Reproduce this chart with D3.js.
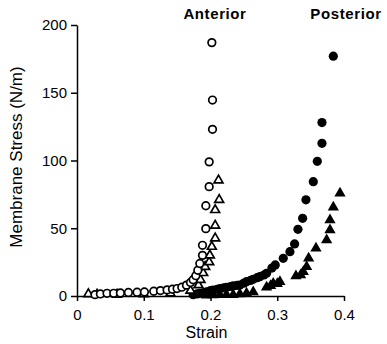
<!DOCTYPE html>
<html>
<head>
<meta charset="utf-8">
<style>
  body { margin: 0; background: #fff; }
  svg { font-family: "Liberation Sans", Arial, sans-serif; }
  .axis path, .axis line { stroke: #000; stroke-width: 1.5; }
  .axis text { font-size: 15px; fill: #000; }
</style>
<script src="https://cdn.jsdelivr.net/npm/d3@7"></script>
</head>
<body>
<svg id="chart" width="387" height="344"></svg>
<script>
// anterior, open circles
var antCircS = [0.027, 0.035, 0.045, 0.055, 0.065, 0.077, 0.09, 0.101, 0.115, 0.125, 0.135, 0.143, 0.15, 0.157, 0.164, 0.17, 0.174, 0.178, 0.181, 0.184, 0.188, 0.188, 0.193, 0.193, 0.198, 0.198, 0.203, 0.203, 0.202];
var antCircV = [1, 1.5, 2, 2, 2.2, 2.6, 2.8, 3, 3.5, 4, 4.5, 5, 5.5, 6.5, 8, 10, 12, 15, 19, 24, 30, 37.4, 49.7, 66.6, 80.7, 99, 123, 144.6, 187];
// anterior, open triangles
var antTriS = [0.017, 0.03, 0.06, 0.1, 0.14, 0.17, 0.182, 0.185, 0.189, 0.192, 0.198, 0.199, 0.202, 0.207, 0.207, 0.207, 0.213, 0.212];
var antTriV = [1.5, 1, 1, 1.5, 2, 4, 8, 12, 17, 21.6, 25, 30, 36.4, 42.6, 52, 63.5, 71, 85.4];
// posterior, filled circles
var postCircS = [0.174, 0.18, 0.184, 0.19, 0.194, 0.2, 0.204, 0.21, 0.214, 0.22, 0.224, 0.23, 0.234, 0.24, 0.244, 0.25, 0.254, 0.26, 0.264, 0.27, 0.274, 0.28, 0.284, 0.292, 0.297, 0.309, 0.319, 0.326, 0.331, 0.338, 0.343, 0.354, 0.36, 0.367, 0.367, 0.384];
var postCircV = [1, 1.5, 2, 2.5, 3, 4, 4.4, 5, 5.4, 6, 6.4, 7, 7.4, 7.8, 8.1, 9.5, 10.6, 11.5, 12.3, 13.5, 14.3, 15.5, 16.7, 20.6, 22.9, 27.8, 32.7, 38.4, 49.2, 57.3, 71, 84.4, 99.4, 112.7, 128, 177];
// posterior, filled triangles
var postTriS = [0.194, 0.204, 0.214, 0.224, 0.234, 0.244, 0.254, 0.264, 0.284, 0.29, 0.294, 0.3, 0.304, 0.328, 0.335, 0.339, 0.344, 0.347, 0.358, 0.374, 0.379, 0.379, 0.384, 0.394];
var postTriV = [0.5, 0.8, 1, 1, 1, 1.5, 2, 3, 6.4, 7.5, 9.3, 9, 10.6, 14.8, 15.5, 17.9, 21.6, 27.8, 35.2, 41.3, 48.7, 56, 65.5, 75.8];

var xTicks = [0, 0.1, 0.2, 0.3, 0.4];
var yTicks = [0, 50, 100, 150, 200];

var margin = { top: 25, right: 43, bottom: 48, left: 77 };
var width = 387 - margin.left - margin.right,
    height = 344 - margin.top - margin.bottom;

var x = d3.scaleLinear().domain([0, 0.4]).range([0, width]);
var y = d3.scaleLinear().domain([0, 200]).range([height, 0]);

var svg = d3.select("#chart")
  .append("g")
  .attr("transform", "translate(" + margin.left + "," + margin.top + ")");

svg.append("g")
  .attr("class", "axis")
  .attr("transform", "translate(0," + height + ")")
  .call(d3.axisBottom(x).tickValues(xTicks).tickSize(5).tickSizeOuter(0)
    .tickFormat(function (d) { return d === 0 ? "0" : d3.format(".1f")(d); }))
  .selectAll("text").attr("dy", "1.05em");

svg.append("g")
  .attr("class", "axis")
  .call(d3.axisLeft(y).tickValues(yTicks).tickSize(6).tickSizeOuter(0))
  .selectAll("text").attr("x", -10);

function zip(s, v) { return s.map(function (d, i) { return [d, v[i]]; }); }

// filled posterior first, open anterior on top
svg.selectAll(".pc").data(zip(postCircS, postCircV)).enter().append("circle")
  .attr("cx", function (d) { return x(d[0]); })
  .attr("cy", function (d) { return y(d[1]); })
  .attr("r", 4.6).attr("fill", "#000");

svg.selectAll(".pt").data(zip(postTriS, postTriV)).enter().append("path")
  .attr("d", d3.symbol().type(d3.symbolTriangle).size(55))
  .attr("transform", function (d) { return "translate(" + x(d[0]) + "," + y(d[1]) + ")"; })
  .attr("fill", "#000");

svg.selectAll(".at").data(zip(antTriS, antTriV)).enter().append("path")
  .attr("d", d3.symbol().type(d3.symbolTriangle).size(34))
  .attr("transform", function (d) { return "translate(" + x(d[0]) + "," + y(d[1]) + ")"; })
  .attr("fill", "#fff").attr("stroke", "#000").attr("stroke-width", 1.7);

svg.selectAll(".ac").data(zip(antCircS, antCircV)).enter().append("circle")
  .attr("cx", function (d) { return x(d[0]); })
  .attr("cy", function (d) { return y(d[1]); })
  .attr("r", 3.8).attr("fill", "#fff").attr("stroke", "#000").attr("stroke-width", 1.7);

svg.append("text")
  .attr("x", 138).attr("y", -6)
  .attr("text-anchor", "middle")
  .style("font-size", "15px").style("font-weight", "bold").style("letter-spacing", "0.6px")
  .text("Anterior");

svg.append("text")
  .attr("x", 269).attr("y", -6)
  .attr("text-anchor", "middle")
  .style("font-size", "15px").style("font-weight", "bold").style("letter-spacing", "0.6px")
  .text("Posterior");

svg.append("text")
  .attr("x", width / 2 - 4).attr("y", height + 42)
  .attr("text-anchor", "middle")
  .style("font-size", "16px")
  .text("Strain");

svg.append("text")
  .attr("transform", "translate(-55,132) rotate(-90)")
  .attr("text-anchor", "middle")
  .style("font-size", "17px")
  .text("Membrane Stress (N/m)");
</script>
</body>
</html>
